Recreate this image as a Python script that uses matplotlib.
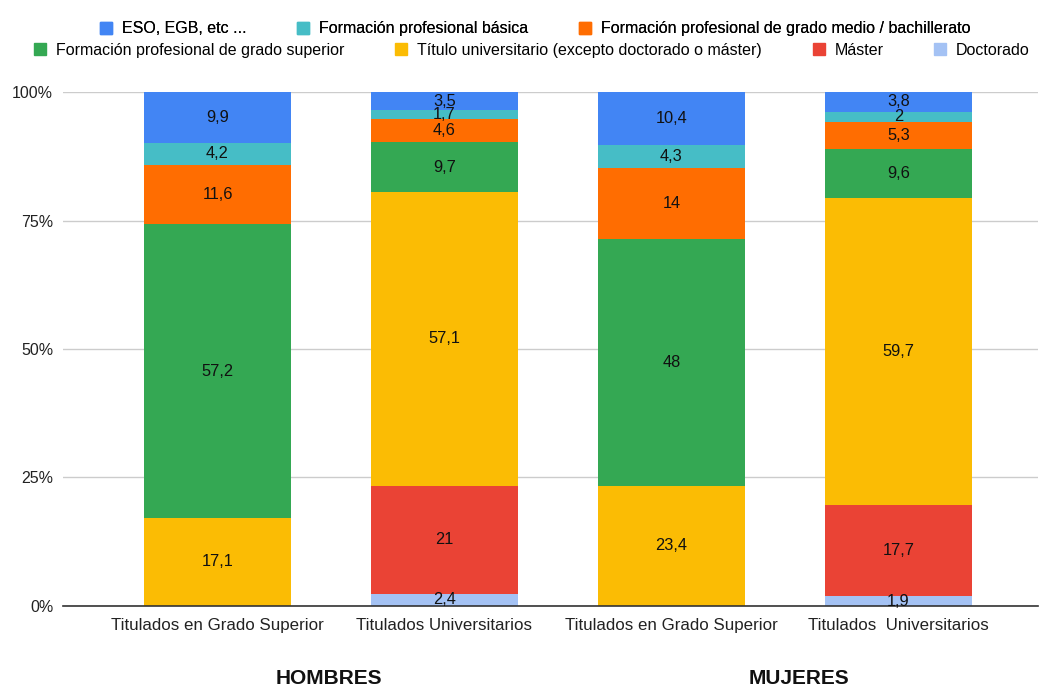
import matplotlib.pyplot as plt
import numpy as np
from matplotlib.lines import Line2D

plt.rcParams['font.family'] = ['Liberation Sans', 'DejaVu Sans']

categorias = ['Titulados en Grado Superior', 'Titulados Universitarios',
              'Titulados en Grado Superior', 'Titulados  Universitarios']
grupos = ['HOMBRES', 'MUJERES']

# series from bottom to top of the stack
series = ['Doctorado', 'Máster', 'Título universitario (excepto doctorado o máster)',
          'Formación profesional de grado superior',
          'Formación profesional de grado medio / bachillerato',
          'Formación profesional básica', 'ESO, EGB, etc ...']
doctorado = [0, 2.4, 0, 1.9]
master = [0, 21, 0, 17.7]
titulo = [17.1, 57.1, 23.4, 59.7]
fp_superior = [57.2, 9.7, 48, 9.6]
fp_medio = [11.6, 4.6, 14, 5.3]
fp_basica = [4.2, 1.7, 4.3, 2]
eso = [9.9, 3.5, 10.4, 3.8]
colores = ['#a4c2f4', '#ea4335', '#fbbc04', '#34a853', '#ff6d01', '#46bdc6', '#4285f4']

valores = np.array([doctorado, master, titulo, fp_superior, fp_medio, fp_basica, eso], dtype=float)
pct = valores / valores.sum(axis=0) * 100

fig = plt.figure(figsize=(10.39, 6.87), dpi=100)
ax = fig.add_axes([0.0606, 0.118, 0.9384, 0.748])

x = np.arange(len(categorias))
abajo = np.zeros(len(categorias))
for nombre, fila, fila_pct, col in zip(series, valores, pct, colores):
    ax.bar(x, fila_pct, bottom=abajo, width=0.65, color=col, label=nombre, zorder=2)
    for xi, v, p, b in zip(x, fila, fila_pct, abajo):
        if v > 0:
            txt = f'{v:g}'.replace('.', ',')
            ax.text(xi, b + p / 2, txt, ha='center', va='center', fontsize=11.8,
                    color='#111111', zorder=3)
    abajo += fila_pct

ax.set_xlim(-0.681, 3.615)
ax.set_ylim(0, 100)
ax.set_yticks([0, 25, 50, 75, 100])
ax.set_yticklabels(['0%', '25%', '50%', '75%', '100%'], fontsize=11.5, color='#222222')
ax.set_xticks(x)
ax.set_xticklabels(categorias, fontsize=12.2, color='#222222')
ax.tick_params(axis='y', length=0, pad=7)
ax.tick_params(axis='x', length=0, pad=9)
ax.yaxis.grid(True, color='#cccccc', linewidth=1, zorder=0)
for s in ['top', 'right', 'left']:
    ax.spines[s].set_visible(False)
ax.spines['bottom'].set_color('#333333')
ax.spines['bottom'].set_linewidth(1.2)

for xg, g in zip([0.493, 2.564], grupos):
    ax.text(xg, -0.142, g, transform=ax.get_xaxis_transform(),
            ha='center', va='center', fontsize=15, fontweight='bold', color='#111111')

def handle(c):
    return Line2D([], [], marker='s', linestyle='', markersize=9, color=c)

orden1 = [6, 5, 4]
orden2 = [3, 2, 1, 0]
opts = dict(loc='center', frameon=False, fontsize=11.5, handletextpad=0.6,
            columnspacing=3.2, handlelength=0.75)
leg1 = fig.legend([handle(colores[i]) for i in orden1], [series[i] for i in orden1],
                  bbox_to_anchor=(0.515, 0.958), ncol=3, **opts)
leg2 = fig.legend([handle(colores[i]) for i in orden2], [series[i] for i in orden2],
                  bbox_to_anchor=(0.512, 0.927), ncol=4, **opts)
fig.add_artist(leg1)

fig.savefig('out.png', dpi=100)
